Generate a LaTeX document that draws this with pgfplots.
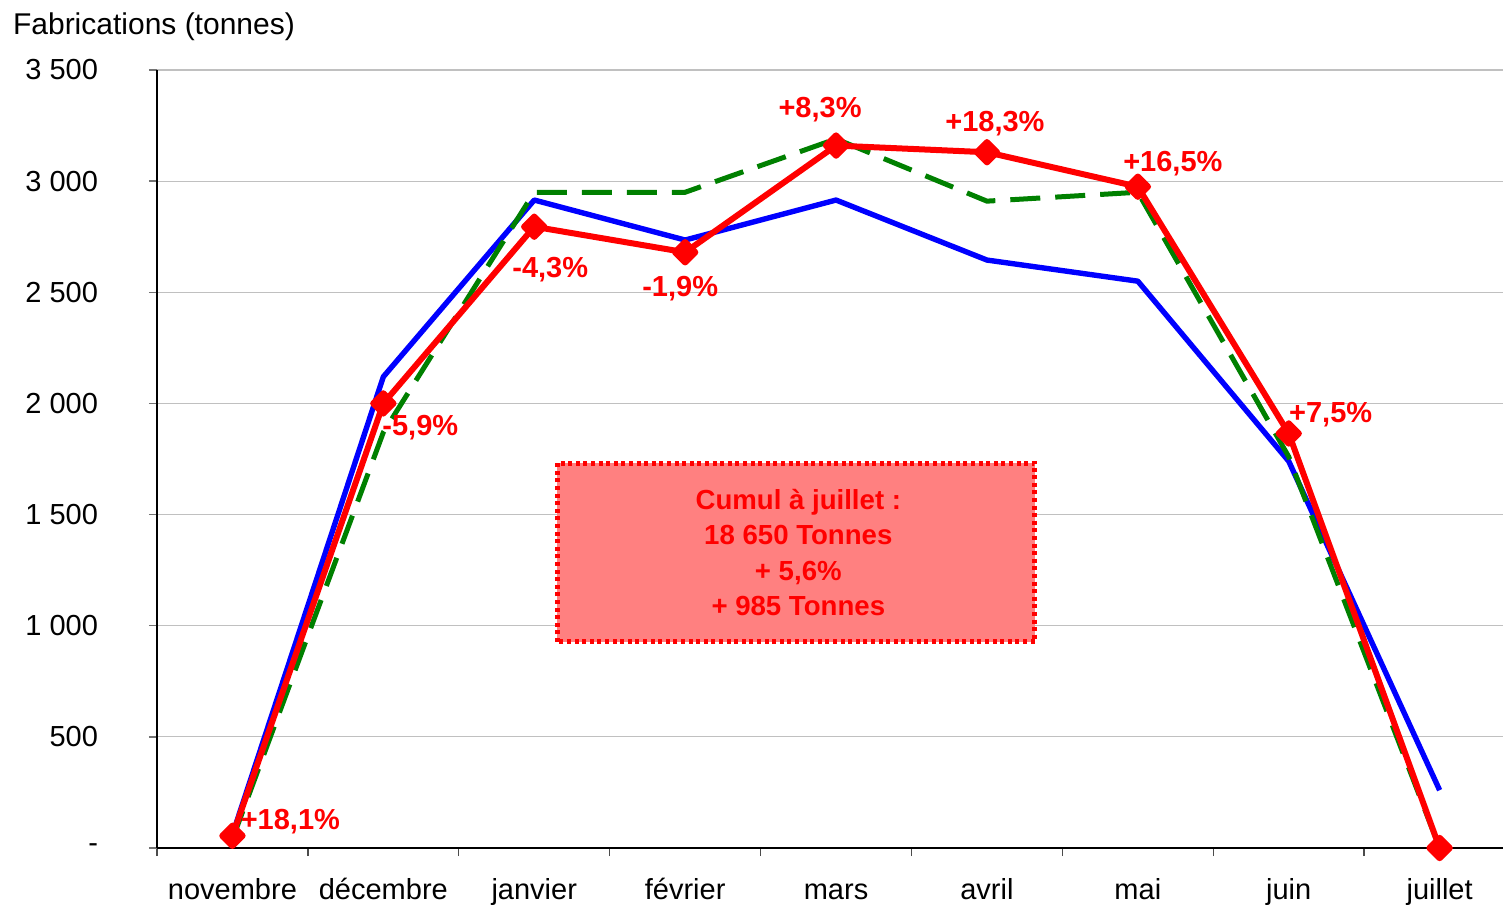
\documentclass[border=0pt]{standalone}
\usepackage{pgfplots}
\pgfplotsset{compat=1.18}
\usepackage{fontspec}
\setmainfont{Liberation Sans}

\definecolor{serblue}{RGB}{0,0,255}
\definecolor{serred}{RGB}{255,0,0}
\definecolor{sergreen}{RGB}{0,128,0}
\definecolor{boxfill}{RGB}{255,128,128}
\definecolor{gridgray}{RGB}{192,192,192}

\begin{document}
\begin{tikzpicture}[font=\fontsize{14.5}{17.5}\selectfont]
\begin{axis}[
  at={(0,0)}, anchor=south west,
  scale only axis, width=673pt, height=389pt,
  xmin=-0.5, xmax=8.42, ymin=0, ymax=3500,
  clip=false,
  axis x line*=bottom, axis y line*=left,
  axis line style={black, line width=0.7pt},
  tick align=outside,
  xtick={0,...,8},
  xticklabels={novembre,décembre,janvier,février,mars,avril,mai,juin,juillet},
  major x tick style={draw=none},
  minor xtick={-0.5,0.5,...,7.5},
  minor x tick style={black!70, line width=0.7pt},
  minor tick length=4pt,
  major tick length=4pt,
  xticklabel style={anchor=base, yshift=-21.5pt},
  ytick={0,500,...,3500},
  yticklabels={-,500,1 000,1 500,2 000,2 500,3 000,3 500},
  y tick style={black!55, line width=0.7pt},
  yticklabel style={anchor=east, xshift=-22pt},
  ymajorgrids, grid style={gridgray, line width=0.6pt},
]
% Blue series
\addplot[serblue, line width=2.7pt, line join=round] coordinates {
  (0,60) (1,2120) (2,2915) (3,2735) (4,2915) (5,2645) (6,2550) (7,1740) (8,260)};
% Green dashed series
\addplot[sergreen, line width=2.5pt, dash pattern=on 15pt off 7.5pt] coordinates {
  (0,40) (1,1870) (2,2950) (3,2950) (4,3190) (5,2910) (6,2950) (7,1760) (8,0)};
% Red series
\addplot[serred, line width=3pt, line join=round, mark=square*, mark size=3.6pt,
  mark options={rotate=45, solid}] coordinates {
  (0,55) (1,2000) (2,2795) (3,2680) (4,3160) (5,3130) (6,2975) (7,1865) (8,0)};

% summary box
\draw[serred, fill=boxfill, line width=2.5pt, dash pattern=on 2pt off 1.8pt]
  (axis cs:2.152,927) rectangle (axis cs:5.318,1732);
\node[serred, font=\fontsize{13.8}{17.75}\selectfont\bfseries, align=center]
  at (axis cs:3.75,1329) {Cumul à juillet :\\18 650 Tonnes\\+ 5,6\%\\+ 985 Tonnes};

% percentage labels
\begin{scope}[every node/.style={serred, font=\fontsize{14.5}{17.5}\selectfont\bfseries}]
\node at (axis cs:0.384,120) {+18,1\%};
\node at (axis cs:1.245,1890) {-5,9\%};
\node at (axis cs:2.106,2600) {-4,3\%};
\node at (axis cs:2.967,2515) {-1,9\%};
\node at (axis cs:3.894,3320) {+8,3\%};
\node at (axis cs:5.053,3258) {+18,3\%};
\node at (axis cs:6.232,3078) {+16,5\%};
\node at (axis cs:7.278,1950) {+7,5\%};
\end{scope}
\end{axis}
\node[anchor=base west, font=\fontsize{15}{18}\selectfont] at (-75.5pt,406.5pt) {Fabrications (tonnes)};
\pgfresetboundingbox
\path (-78.5pt,-29pt) rectangle (673pt,424pt);
\end{tikzpicture}
\end{document}
